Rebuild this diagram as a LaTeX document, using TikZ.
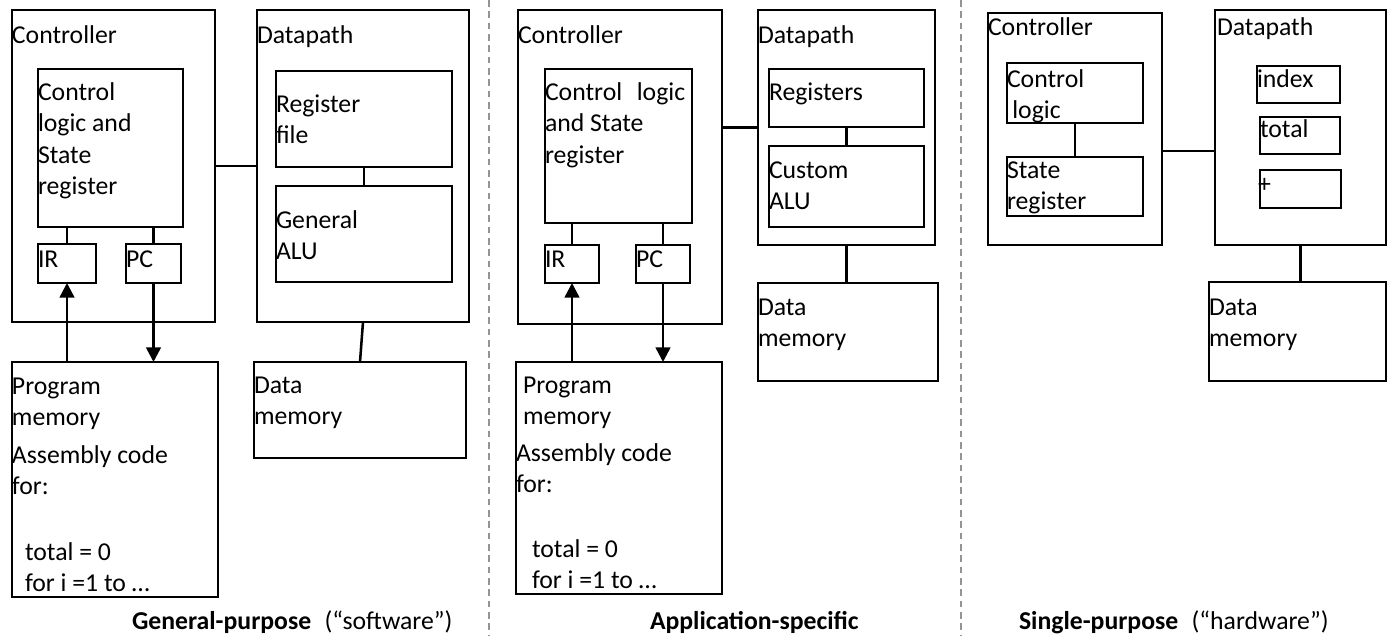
\documentclass[tikz,border=0pt]{standalone}
\usepackage{fontspec}
\setmainfont{Carlito}
\usetikzlibrary{arrows.meta}
\newcommand\ml[1]{\vtop{\halign{##\hfil\cr#1\crcr}}}
\newcommand\bx[5]{\node[box, minimum width={(#4-#2)*0.75pt}, minimum height={(#5-#3)*0.75pt}] (#1) at ({(#2+#4)/2},{(#3+#5)/2}) {};}
\tikzset{
  box/.style={draw, rectangle, line width=1.9pt, inner sep=0pt, outer sep=0pt},
  txt/.style={anchor=base west, inner sep=0pt, outer sep=0pt, font=\fontsize{19.3}{23.7}\selectfont},
  con/.style={line width=1.9pt},
  arr/.style={line width=1.9pt, -{Triangle[length=11pt,width=11pt]}},
  sepline/.style={draw=black!42, line width=1.1pt, dash pattern=on 5pt off 3.5pt}
}
\begin{document}
\begin{tikzpicture}[x=0.75pt,y=-0.75pt]
\useasboundingbox (0,0) rectangle (1387,636);
% separators
\draw[sepline] (489,0) -- (489,636);
\draw[sepline] (961,0) -- (961,636);
% ---------------- Panel 1 ----------------
\bx{ctrl1}{12}{10}{215}{322}
\bx{dp1}{257}{10}{469}{322}
\bx{cl1}{38}{69}{183}{227}
\bx{ir1}{38}{244}{96}{283}
\bx{pc1}{126}{244}{181}{283}
\bx{rf1}{276}{71}{452}{167}
\bx{alu1}{276}{186}{452}{282}
\bx{pm1}{12}{362}{218}{597}
\bx{dm1}{254}{362}{466}{458}
\node[txt] (t1c) at (12,43) {Controller};
\node[txt] (t1d) at (257,43) {Datapath};
\node[txt] (t1cl) at (38,100) {\ml{Control\cr logic and\cr State\cr register}};
\node[txt] (t1ir) at (38,267) {IR};
\node[txt] (t1pc) at (126,267) {PC};
\node[txt] (t1rf) at (276,112) {\ml{Register\cr file}};
\node[txt] (t1alu) at (276,228) {\ml{General\cr ALU}};
\node[txt] (t1pm) at (12,394) {\ml{Program\cr memory}};
\node[txt] (t1as) at (12,463) {\ml{Assembly code\cr for:}};
\node[txt] (t1code) at (25,560) {\ml{total = 0\cr for i =1 to …}};
\node[txt] (t1dm) at (254,393) {\ml{Data\cr memory}};
\node[txt] (t1cap) at (132,629) {\textbf{General-purpose}\hspace{10pt}(“software”)};
\draw[con] (cl1.south -| ir1.north) -- (ir1.north);
\draw[con] (cl1.south -| pc1.north) -- (pc1.north);
\draw[con] (rf1.south) -- (alu1.north);
\draw[con] (ctrl1.east) -- (dp1.west);
\draw[con] (dp1.south) -- (dm1.north);
\draw[arr] (pm1.north -| ir1.south) -- (ir1.south);
\draw[arr] (pc1.south) -- (pc1.south |- pm1.north);
% ---------------- Panel 2 ----------------
\bx{ctrl2}{518}{10}{722}{324}
\bx{dp2}{758}{10}{935}{245}
\bx{cl2}{545}{69}{692}{223}
\bx{ir2}{545}{245}{599}{283}
\bx{pc2}{636}{245}{690}{283}
\bx{rg2}{769}{69}{924}{127}
\bx{alu2}{769}{146}{924}{227}
\bx{dm2}{758}{283}{938}{381}
\bx{pm2}{516}{362}{722}{594}
\node[txt] (t2c) at (518,43) {Controller};
\node[txt] (t2d) at (758,43) {Datapath};
\node[txt] (t2cl) at (545,100) {\ml{Control\hspace{11pt}logic\cr and State\cr register}};
\node[txt] (t2ir) at (545,267) {IR};
\node[txt] (t2pc) at (636,267) {PC};
\node[txt] (t2rg) at (769,100) {Registers};
\node[txt] (t2alu) at (769,178) {\ml{Custom\cr ALU}};
\node[txt] (t2dm) at (758,315) {\ml{Data\cr memory}};
\node[txt] (t2pm) at (523,393) {\ml{Program\cr memory}};
\node[txt] (t2as) at (516,461) {\ml{Assembly code\cr for:}};
\node[txt] (t2code) at (532,557) {\ml{total = 0\cr for i =1 to …}};
\node[txt] (t2cap) at (650,629) {\textbf{Application-specific}};
\draw[con] (cl2.south -| ir2.north) -- (ir2.north);
\draw[con] (cl2.south -| pc2.north) -- (pc2.north);
\draw[con] (rg2.south) -- (alu2.north);
\draw[con] (dp2.west -| ctrl2.east) -- (dp2.west);
\draw[con] (dp2.south) -- (dp2.south |- dm2.north);
\draw[arr] (pm2.north -| ir2.south) -- (ir2.south);
\draw[arr] (pc2.south) -- (pc2.south |- pm2.north);
% ---------------- Panel 3 ----------------
\bx{ctrl3}{988}{13}{1162}{245}
\bx{dp3}{1215}{10}{1386}{245}
\bx{cl3}{1007}{63}{1143}{123}
\bx{sr3}{1007}{157}{1143}{216}
\bx{ix3}{1257}{66}{1340}{103}
\bx{tt3}{1260}{117}{1340}{154}
\bx{pl3}{1260}{170}{1341}{208}
\bx{dm3}{1209}{282}{1386}{381}
\node[txt] (t3c) at (988,35) {Controller};
\node[txt] (t3d) at (1217,35) {Datapath};
\node[txt] (t3cl) at (1007,87) {\ml{Control\cr\hspace{4pt}logic}};
\node[txt] (t3sr) at (1007,178) {\ml{State\cr register}};
\node[txt] (t3ix) at (1257,87) {index};
\node[txt] (t3tt) at (1260,137) {total};
\node[txt] (t3pl) at (1258,192) {+};
\node[txt] (t3dm) at (1209,315) {\ml{Data\cr memory}};
\node[txt] (t3cap) at (1019,629) {\textbf{Single-purpose}\hspace{10pt}(“hardware”)};
\coordinate (j3) at (1188,151);
\draw[con] (cl3.south) -- (sr3.north);
\draw[con] (ctrl3.east |- j3) -- (dp3.west |- j3);
\draw[con] (dp3.south) -- (dp3.south |- dm3.north);
\end{tikzpicture}
\end{document}
